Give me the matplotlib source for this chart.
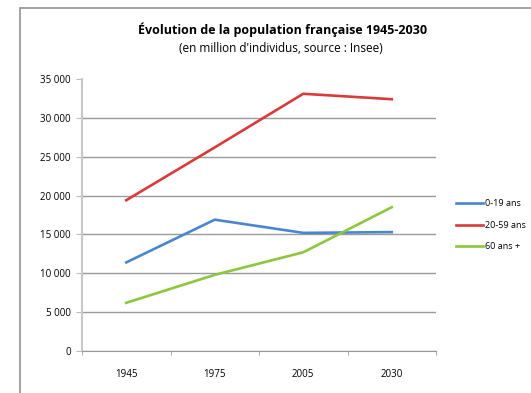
import matplotlib.pyplot as plt
from matplotlib.patches import Rectangle
from matplotlib.ticker import FuncFormatter

annees = ["1945", "1975", "2005", "2030"]
jeunes = [11400, 16900, 15200, 15300]
adultes = [19400, 26200, 33100, 32400]
seniors = [6200, 9800, 12700, 18500]

plt.rcParams['font.family'] = ['Open Sans', 'DejaVu Sans']

fig = plt.figure(figsize=(5.31, 3.93), dpi=100)

# cadre du graphique
cadre = Rectangle((20/531, -0.1), 1.2, 1 - 8/393 + 0.1, transform=fig.transFigure,
                  fill=False, edgecolor='#9a9a9a', linewidth=1.3)
fig.patches.append(cadre)

ax = fig.add_axes([82/531, 1 - 351/393, (436 - 82)/531, (351 - 79)/393])

x = range(len(annees))
ax.plot(x, jeunes, color='#4a86d0', linewidth=1.9, label='0-19 ans')
ax.plot(x, adultes, color='#d93a3a', linewidth=1.9, label='20-59 ans')
ax.plot(x, seniors, color='#8dc63f', linewidth=1.9, label='60 ans +')

ax.set_xlim(-0.5, 3.5)
ax.set_ylim(0, 35000)
ax.set_yticks(range(0, 35001, 5000))
ax.yaxis.set_major_formatter(FuncFormatter(lambda v, p: f"{int(v):,}".replace(",", " ")))
ax.set_xticks(list(x))
ax.set_xticklabels(annees)
ax.set_xticks([-0.5, 0.5, 1.5, 2.5, 3.5], minor=True)
ax.tick_params(axis='x', which='major', length=0, pad=13, labelsize=7)
ax.tick_params(axis='x', which='minor', length=3, color='#999999')
ax.tick_params(axis='y', length=4, color='#bbbbbb', labelsize=7, pad=4)

ax.grid(axis='y', color='#9a9a9a', linewidth=1)
ax.yaxis.get_gridlines()[-1].set_visible(False)
ax.set_axisbelow(True)
for s in ['top', 'right']:
    ax.spines[s].set_visible(False)
ax.spines['left'].set_color('#c8c8c8')
ax.spines['left'].set_linewidth(1.5)
ax.spines['bottom'].set_color('#999999')

fig.text(283/531, 1 - 30/393, "Évolution de la population française 1945-2030",
         ha='center', va='center', fontsize=9, fontweight='bold')
fig.text(281/531, 1 - 48/393, "(en million d'individus, source : Insee)",
         ha='center', va='center', fontsize=8.5)

ax.legend(loc='upper left', bbox_to_anchor=(448/531, 1 - 191/393),
          bbox_transform=fig.transFigure, frameon=False, fontsize=6.5,
          handlelength=3.0, handletextpad=0.25, labelspacing=1.4)

fig.savefig("out.png", dpi=100)
